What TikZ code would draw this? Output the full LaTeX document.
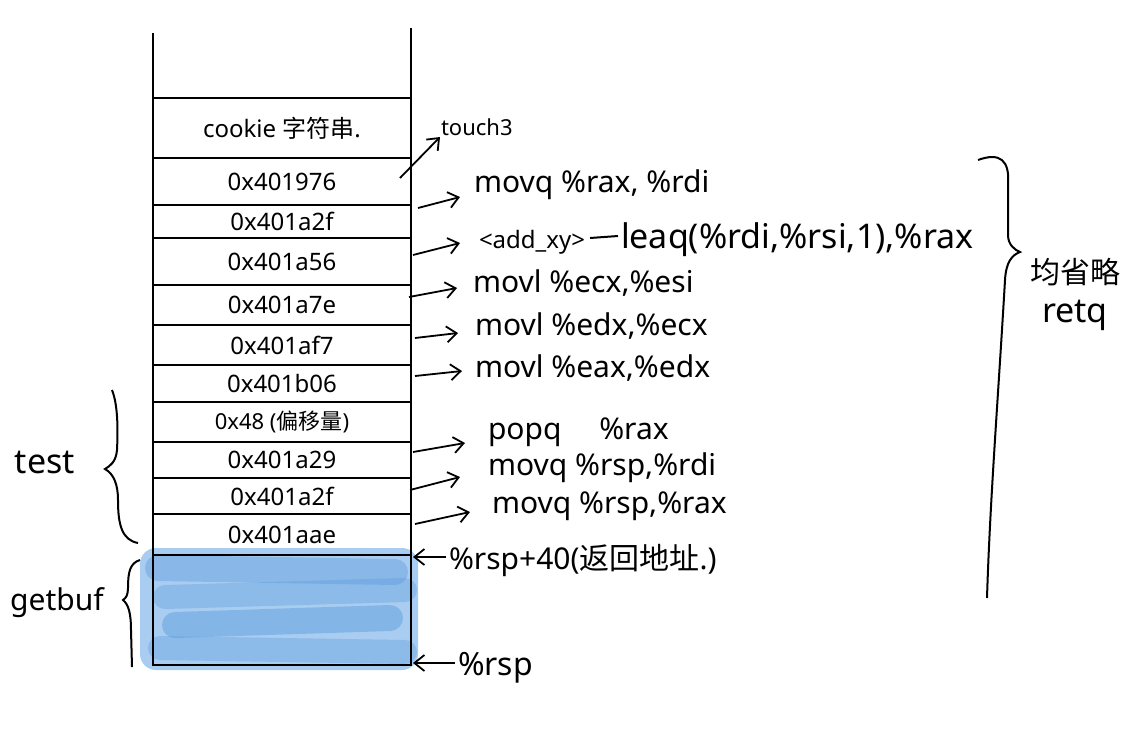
\documentclass[tikz,border=0pt]{standalone}
\usepackage{fontspec}
\setmainfont{Noto Sans}
\newfontfamily\cjk{Noto Sans CJK SC}
\usetikzlibrary{positioning,arrows.meta,backgrounds}
\definecolor{bufblue}{RGB}{168,205,240}
\definecolor{bufdark}{RGB}{90,152,222}

\begin{document}
\begin{tikzpicture}[x=0.5pt,y=-0.5pt,line width=1pt]
    \tikzstyle{cell} = [rectangle, draw, minimum width=129pt, inner sep=0pt, outer sep=0pt, font=\fontsize{12}{14}\selectfont]
    \tikzstyle{instr} = [anchor=west, inner sep=0pt, font=\fontsize{15}{17}\selectfont]
    \tikzstyle{arrow} = [-{Straight Barb[length=5pt,width=8pt]}, line width=0.9pt]
    \tikzstyle{side} = [inner sep=0pt, font=\fontsize{17}{19}\selectfont]

    \useasboundingbox (0,0) rectangle (1145,740);

    \node [cell, minimum height=30pt, anchor=north west] (c1) at (153,98) {cookie {\cjk 字符串}.};
    \node [cell, minimum height=23.5pt, below=0pt of c1] (c2) {0x401976};
    \node [cell, minimum height=16.5pt, below=0pt of c2] (c3) {0x401a2f};
    \node [cell, minimum height=23.5pt, below=0pt of c3] (c4) {0x401a56};
    \node [cell, minimum height=20pt, below=0pt of c4] (c5) {0x401a7e};
    \node [cell, minimum height=20pt, below=0pt of c5] (c6) {0x401af7};
    \node [cell, minimum height=18.5pt, below=0pt of c6] (c7) {0x401b06};
    \node [cell, minimum height=20pt, below=0pt of c7, font=\fontsize{11}{13}\selectfont] (c8) {0x48 ({\cjk 偏移量})};
    \node [cell, minimum height=18pt, below=0pt of c8] (c9) {0x401a29};
    \node [cell, minimum height=18pt, below=0pt of c9] (c10) {0x401a2f};
    \node [cell, minimum height=20.5pt, below=0pt of c10] (c11) {0x401aae};
    \node [cell, minimum height=55pt, below=0pt of c11] (c12) {};

    \coordinate (tl) at (153,33);
    \coordinate (tr) at (411,28);
    \draw (tl) -- (c1.north west);
    \draw (tr) -- (c1.north east);

    \begin{scope}[on background layer]
        \fill [bufblue, rounded corners=8pt] (140,548) rectangle (418,670);
        \draw [bufdark, opacity=0.4, line width=13pt, line cap=round] (158,568) -- (395,572);
        \draw [bufdark, opacity=0.35, line width=12pt, line cap=round] (165,597) -- (405,590);
        \draw [bufdark, opacity=0.45, line width=13pt, line cap=round] (175,625) -- (390,618);
        \draw [bufdark, opacity=0.35, line width=12pt, line cap=round] (160,648) -- (405,652);
    \end{scope}

    \node [instr, anchor=south west, font=\fontsize{11}{13}\selectfont] (touch) at (440,137) {touch3};
    \node [instr] (i1) at (473,185) {movq \%rax, \%rdi};
    \node [instr, font=\fontsize{12}{14}\selectfont] (add) at (478,242) {<add\_xy>};
    \node [instr, font=\fontsize{17}{19}\selectfont] (leaq) at (620,240) {leaq(\%rdi,\%rsi,1),\%rax};
    \node [instr] (i3) at (472,283) {movl \%ecx,\%esi};
    \node [instr] (i4) at (474,326) {movl \%edx,\%ecx};
    \node [instr] (i5) at (474,368) {movl \%eax,\%edx};
    \node [instr] (i6) at (487,432) {popq \quad\%rax};
    \node [instr] (i7) at (487,468) {movq \%rsp,\%rdi};
    \node [instr] (i8) at (491,506) {movq \%rsp,\%rax};
    \node [instr] (r40) at (448,560) {\%rsp+40({\cjk 返回地址}.)};
    \node [instr, font=\fontsize{16}{18}\selectfont] (rsp) at (457,668) {\%rsp};

    \draw [arrow] ([xshift=-5.5pt,yshift=1.75pt]c2.east) -- (touch.south west);
    \draw [arrow] ([xshift=3.5pt,yshift=6.75pt]c3.east) -- ([xshift=-6.5pt,yshift=-6pt]i1.west);
    \draw [arrow] ([xshift=1pt,yshift=3.25pt]c4.east) -- ([xshift=-9pt,yshift=-0.5pt]add.west);
    \draw [arrow] ([xshift=-1pt,yshift=4pt]c5.east) -- ([xshift=-7.5pt,yshift=-2.5pt]i3.west);
    \draw [arrow] ([xshift=2pt,yshift=3.5pt]c6.east) -- ([xshift=-8pt,yshift=-3.5pt]i4.west);
    \draw [arrow] ([xshift=2pt,yshift=3.75pt]c7.east) -- ([xshift=-6pt,yshift=-1.5pt]i5.west);
    \draw [arrow] ([xshift=1pt,yshift=4pt]c9.east) -- ([xshift=-11pt,yshift=-5.5pt]i6.west);
    \draw [arrow] ([xshift=-0.5pt,yshift=3pt]c10.east) -- ([xshift=-13.5pt,yshift=-4.5pt]i7.west);
    \draw [arrow] ([xshift=2pt,yshift=5.25pt]c11.east) -- ([xshift=-10.5pt,yshift=-3pt]i8.west);
    \draw ([xshift=2pt,yshift=2pt]add.east) -- ([xshift=-1pt,yshift=2pt]leaq.west);
    \draw [arrow] ([xshift=-1pt,yshift=1.5pt]r40.west) -- ([xshift=1pt,yshift=-1pt]c12.north east);
    \draw [arrow] ([xshift=-1pt,yshift=2.5pt]rsp.west) -- ([xshift=1pt,yshift=1pt]c12.south east);

    \node [side] (test) at (45,462) {test};
    \node [side, font=\fontsize{15}{17}\selectfont] (getbuf) at (57,603) {getbuf};
    \node [side, font=\fontsize{15}{17}\selectfont] (omit) at (1075,272) {\cjk 均省略};
    \node [side, below=6pt of omit] (retq) {retq};

    \draw (112,390) .. controls (118,405) and (118,430) .. (117,450)
        .. controls (116,462) and (110,466) .. (105,469)
        .. controls (114,474) and (118,485) .. (118,500)
        .. controls (118,525) and (122,540) .. (138,543);
    \draw (140,560) .. controls (130,563) and (128,572) .. (128,588)
        .. controls (128,595) and (126,598) .. (123,600)
        .. controls (128,604) and (131,612) .. (131,630) -- (132,667);
    \draw (978,160) .. controls (1000,152) and (1010,160) .. (1008,185) -- (1008,235)
        .. controls (1008,245) and (1015,250) .. (1020,252)
        .. controls (1012,255) and (1006,262) .. (1005,280)
        .. controls (998,400) and (990,500) .. (987,598);
\end{tikzpicture}
\end{document}
